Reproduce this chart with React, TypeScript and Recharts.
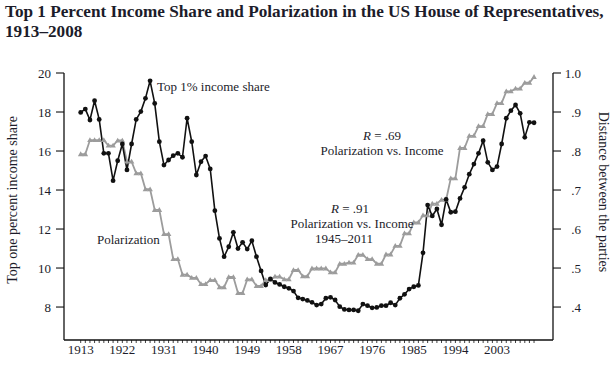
import React from 'react';
import { ComposedChart, Line, XAxis, YAxis } from 'recharts';

const years = [
  1913, 1914, 1915, 1916, 1917, 1918, 1919, 1920, 1921, 1922,
  1923, 1924, 1925, 1926, 1927, 1928, 1929, 1930, 1931, 1932,
  1933, 1934, 1935, 1936, 1937, 1938, 1939, 1940, 1941, 1942,
  1943, 1944, 1945, 1946, 1947, 1948, 1949, 1950, 1951, 1952,
  1953, 1954, 1955, 1956, 1957, 1958, 1959, 1960, 1961, 1962,
  1963, 1964, 1965, 1966, 1967, 1968, 1969, 1970, 1971, 1972,
  1973, 1974, 1975, 1976, 1977, 1978, 1979, 1980, 1981, 1982,
  1983, 1984, 1985, 1986, 1987, 1988, 1989, 1990, 1991, 1992,
  1993, 1994, 1995, 1996, 1997, 1998, 1999, 2000, 2001, 2002,
  2003, 2004, 2005, 2006, 2007, 2008, 2009, 2010, 2011,
];

const incomeShare = [
  17.98, 18.15, 17.59, 18.58, 17.62, 15.88, 15.88, 14.48, 15.5, 16.36,
  15.03, 16.36, 17.62, 18.02, 18.7, 19.6, 18.44, 16.48, 15.28, 15.54,
  15.76, 15.88, 15.68, 17.68, 16.48, 14.77, 15.45, 15.74, 15.08, 12.94,
  11.52, 10.58, 11.09, 11.83, 11.0, 11.32, 10.97, 11.4, 10.58, 9.85,
  9.13, 9.44, 9.26, 9.16, 9.04, 8.96, 8.82, 8.47, 8.41, 8.34,
  8.24, 8.1, 8.15, 8.45, 8.5, 8.36, 8.02, 7.88, 7.85, 7.85,
  7.81, 8.15, 8.07, 7.96, 7.98, 8.07, 8.07, 8.22, 8.1, 8.45,
  8.65, 8.92, 9.04, 9.11, 10.78, 13.23, 12.67, 13.03, 12.22, 13.52,
  12.86, 12.89, 13.57, 14.14, 14.81, 15.33, 15.88, 16.53, 15.42, 15.03,
  15.2, 16.36, 17.68, 18.07, 18.36, 17.93, 16.7, 17.47, 17.45,
];

// one value per two-year Congress, starting 1913-14
const polarization = [
  0.792, 0.828, 0.828, 0.814, 0.827, 0.773, 0.743, 0.702, 0.649, 0.587,
  0.523, 0.483, 0.475, 0.459, 0.469, 0.451, 0.477, 0.436, 0.471, 0.454,
  0.469, 0.478, 0.471, 0.495, 0.479, 0.499, 0.499, 0.489, 0.511, 0.514,
  0.534, 0.523, 0.511, 0.535, 0.557, 0.589, 0.617, 0.635, 0.665, 0.675,
  0.73, 0.808, 0.839, 0.864, 0.895, 0.923, 0.953, 0.96, 0.975, 0.99,
];

const xTickLabels = [1913, 1922, 1931, 1940, 1949, 1958, 1967, 1976, 1985, 1994, 2003];
const leftTicks = [8, 10, 12, 14, 16, 18, 20];
const rightTicks = [0.4, 0.5, 0.6, 0.7, 0.8, 0.9, 1.0];

const data = years.map((y, i) => ({
  year: y,
  income: incomeShare[i],
  polar: polarization[Math.floor((y - years[0]) / 2)],
}));

const FONT = '"Liberation Serif", "Times New Roman", serif';
const TEXT = '#1c1c2a';

const Tri = (props: any) => {
  const { cx, cy, index } = props;
  if (cx == null || cy == null) return <g key={`t${index}`} />;
  return (
    <path
      key={`t${index}`}
      d={`M${cx - 2.8},${cy + 2} L${cx + 2.8},${cy + 2} L${cx},${cy - 2.8} Z`}
      fill="#9c9c9c"
    />
  );
};

const RightTick = (props: any) => {
  const { y, payload } = props;
  const v = payload.value;
  const label = v >= 0.999 ? '1.0' : '.' + Math.round(v * 10);
  return (
    <text x={581} y={y} dy={4.5} textAnchor="end" fontSize={13} fontFamily={FONT} fill={TEXT}>
      {label}
    </text>
  );
};

export default function App() {
  return (
    <div style={{ position: 'absolute', left: 0, top: 0, width: 616, height: 365, background: '#fff' }}>
      <ComposedChart
        width={616}
        height={365}
        data={data}
        margin={{ top: 73, right: 23, bottom: 0, left: 24 }}
      >
        <XAxis
          dataKey="year"
          type="number"
          domain={[1909.39, 2015.1]}
          ticks={years}
          interval={0}
          tickFormatter={(v: number) => (xTickLabels.includes(v) ? String(v) : '')}
          height={25}
          tickSize={3}
          tickMargin={2}
          axisLine={{ stroke: '#111', strokeWidth: 1.3 }}
          tickLine={{ stroke: '#111', strokeWidth: 0.8 }}
          tick={{ fontSize: 13, fontFamily: FONT, fill: TEXT }}
        />
        <YAxis
          yAxisId="left"
          orientation="left"
          domain={[6.31, 20]}
          ticks={leftTicks}
          width={40}
          tickSize={8}
          tickMargin={5}
          axisLine={{ stroke: '#111', strokeWidth: 1.3 }}
          tickLine={{ stroke: '#111', strokeWidth: 1.1 }}
          tick={{ fontSize: 13, fontFamily: FONT, fill: TEXT }}
        />
        <YAxis
          yAxisId="right"
          orientation="right"
          domain={[0.3155, 1.0]}
          ticks={rightTicks}
          width={40}
          tickSize={8}
          axisLine={{ stroke: '#111', strokeWidth: 1.3 }}
          tickLine={{ stroke: '#111', strokeWidth: 1.1 }}
          tick={<RightTick />}
        />
        <Line
          yAxisId="right"
          dataKey="polar"
          stroke="#9c9c9c"
          strokeWidth={1.8}
          dot={Tri}
          activeDot={false}
          isAnimationActive={false}
        />
        <Line
          yAxisId="left"
          dataKey="income"
          stroke="#111"
          strokeWidth={1.6}
          dot={{ r: 2.4, fill: '#111', stroke: 'none' }}
          activeDot={false}
          isAnimationActive={false}
        />
      </ComposedChart>
      <svg
        width={616}
        height={365}
        style={{ position: 'absolute', left: 0, top: 0, pointerEvents: 'none' }}
        fontFamily={FONT}
      >
        <text x={5} y={17} fontSize={17.2} fontWeight="bold" fill={TEXT}>
          Top 1 Percent Income Share and Polarization in the US House of Representatives,
        </text>
        <text x={5} y={37} fontSize={17.2} fontWeight="bold" fill={TEXT}>
          1913–2008
        </text>
        <text
          transform="translate(17,200) rotate(-90)"
          textAnchor="middle"
          fontSize={14}
          fill={TEXT}
        >
          Top one percent income share
        </text>
        <text
          transform="translate(599,192) rotate(90)"
          textAnchor="middle"
          fontSize={14}
          fill={TEXT}
        >
          Distance between the parties
        </text>
        <text x={157} y={91} fontSize={13} fill={TEXT}>Top 1% income share</text>
        <text x={97} y={244} fontSize={13} fill={TEXT}>Polarization</text>
        <text x={382} y={140} fontSize={13} fill={TEXT} textAnchor="middle">
          <tspan fontStyle="italic">R</tspan> = .69
        </text>
        <text x={382} y={155} fontSize={13} fill={TEXT} textAnchor="middle">Polarization vs. Income</text>
        <text x={350} y={213} fontSize={13} fill={TEXT} textAnchor="middle">
          <tspan fontStyle="italic">R</tspan> = .91
        </text>
        <text x={352} y={228} fontSize={13} fill={TEXT} textAnchor="middle">Polarization vs. Income</text>
        <text x={344} y={243} fontSize={13} fill={TEXT} textAnchor="middle">1945–2011</text>
      </svg>
    </div>
  );
}
